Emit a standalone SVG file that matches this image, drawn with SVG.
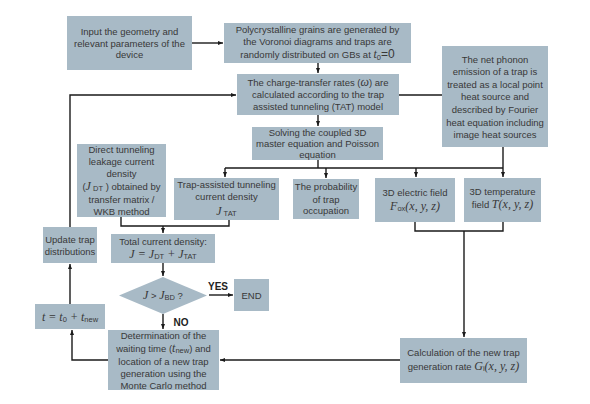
<svg xmlns="http://www.w3.org/2000/svg" width="590" height="404" viewBox="0 0 590 404">
<defs>
<style>
.b{fill:#a8bac6;stroke:none}
.t{font-family:"Liberation Sans",Arial,sans-serif;font-size:9.5px;fill:#383838;text-anchor:middle}
.m{font-family:"Liberation Serif","Times New Roman",serif;font-style:italic;font-size:12px}
.s{font-family:"Liberation Sans",Arial,sans-serif;font-style:normal;font-size:7.5px}
.c{fill:none;stroke:#1a1a1a;stroke-width:1.4}
.bold{font-family:"Liberation Sans",Arial,sans-serif;font-weight:bold;font-size:10px;fill:#222;text-anchor:middle}
</style>
<marker id="a" viewBox="0 0 10 10" refX="10" refY="5" markerWidth="5" markerHeight="5" orient="auto" markerUnits="userSpaceOnUse">
<path d="M0,1 L10,5 L0,9 z" fill="#1a1a1a"/>
</marker>
</defs>
<rect width="590" height="404" fill="#fff"/>

<g id="n-input"><rect class="b" x="67" y="16" width="125" height="54"/>
<text class="t" x="129.5" y="35">Input the geometry and</text>
<text class="t" x="129.5" y="47">relevant parameters of the</text>
<text class="t" x="129.5" y="58">device</text></g>

<g id="n-poly"><rect class="b" x="224" y="23" width="187" height="40"/>
<text class="t" x="317.5" y="33">Polycrystalline grains are generated by</text>
<text class="t" x="317.5" y="45">the Voronoi diagrams and traps are</text>
<text class="t" x="317.5" y="58">randomly distributed on GBs at <tspan class="m">t</tspan><tspan class="s" dy="2">0</tspan><tspan dy="-2" font-size="12">=0</tspan></text></g>

<g id="n-ct"><rect class="b" x="237" y="74" width="162" height="41"/>
<text class="t" x="318" y="86">The charge-transfer rates (<tspan class="m">ω</tspan>) are</text>
<text class="t" x="318" y="98">calculated according to the trap</text>
<text class="t" x="318" y="110">assisted tunneling (TAT) model</text></g>

<g id="n-phonon"><rect class="b" x="442" y="46" width="106" height="101"/>
<text class="t" x="495" y="63">The net phonon</text>
<text class="t" x="495" y="75">emission of a trap is</text>
<text class="t" x="495" y="88">treated as a local  point</text>
<text class="t" x="495" y="100">heat source and</text>
<text class="t" x="495" y="113">described by Fourier</text>
<text class="t" x="495" y="126">heat equation including</text>
<text class="t" x="495" y="138">image heat sources</text></g>

<g id="n-solve"><rect class="b" x="252" y="127" width="131" height="33"/>
<text class="t" x="317.5" y="136">Solving the coupled 3D</text>
<text class="t" x="317.5" y="147">master equation and Poisson</text>
<text class="t" x="317.5" y="158">equation</text></g>

<g id="n-dt"><rect class="b" x="77" y="144" width="89" height="73"/>
<text class="t" x="121.5" y="153">Direct tunneling</text>
<text class="t" x="121.5" y="165">leakage current</text>
<text class="t" x="121.5" y="177">density</text>
<text class="t" x="121.5" y="190">(<tspan class="m">J</tspan><tspan class="s" dy="1"> DT</tspan><tspan dy="-1"> ) obtained by</tspan></text>
<text class="t" x="121.5" y="203">transfer matrix /</text>
<text class="t" x="121.5" y="215">WKB method</text></g>

<g id="n-tat"><rect class="b" x="174" y="178" width="105" height="42"/>
<text class="t" x="226.5" y="188">Trap-assisted tunneling</text>
<text class="t" x="226.5" y="200">current density</text>
<text class="t" x="226.5" y="215"><tspan class="m">J</tspan><tspan class="s" dy="1"> TAT</tspan></text></g>

<g id="n-prob"><rect class="b" x="293" y="179" width="66" height="40"/>
<text class="t" x="326" y="190">The probability</text>
<text class="t" x="326" y="203">of trap</text>
<text class="t" x="326" y="214">occupation</text></g>

<g id="n-ef"><rect class="b" x="375" y="178" width="80" height="44"/>
<text class="t" x="415" y="196">3D electric field</text>
<text class="t" x="415" y="210"><tspan class="m">F</tspan><tspan class="s" dy="1">ox</tspan><tspan class="m" dy="-1" font-style="normal">(</tspan><tspan class="m">x</tspan><tspan class="m" font-style="normal">, </tspan><tspan class="m">y</tspan><tspan class="m" font-style="normal">, </tspan><tspan class="m">z</tspan><tspan class="m" font-style="normal">)</tspan></text></g>

<g id="n-temp"><rect class="b" x="464" y="178" width="77" height="44"/>
<text class="t" x="502.5" y="195">3D temperature</text>
<text class="t" x="502.5" y="208">field  <tspan class="m">T</tspan><tspan class="m" font-style="normal">(</tspan><tspan class="m">x</tspan><tspan class="m" font-style="normal">, </tspan><tspan class="m">y</tspan><tspan class="m" font-style="normal">, </tspan><tspan class="m">z</tspan><tspan class="m" font-style="normal">)</tspan></text></g>

<g id="n-update"><rect class="b" x="43" y="227" width="54" height="36"/>
<text class="t" x="70" y="243">Update trap</text>
<text class="t" x="70" y="255">distributions</text></g>

<g id="n-total"><rect class="b" x="111" y="234" width="104" height="29"/>
<text class="t" x="163" y="245">Total current density:</text>
<text class="t" x="163" y="258"><tspan class="m">J</tspan><tspan class="m" font-style="normal"> = </tspan><tspan class="m">J</tspan><tspan class="s" dy="1">DT</tspan><tspan class="m" font-style="normal" dy="-1">  + </tspan><tspan class="m">J</tspan><tspan class="s" dy="1">TAT</tspan></text></g>

<g id="n-dec"><polygon class="b" points="119,295.5 163,277 207,295.5 163,314"/>
<text class="t" x="163" y="299"><tspan class="m">J</tspan> &gt; <tspan class="m">J</tspan><tspan class="s" dy="1">BD</tspan><tspan dy="-1">  ?</tspan></text></g>

<g id="n-end"><rect class="b" x="234" y="279" width="35" height="32"/>
<text class="t" x="251.5" y="298.5">END</text></g>

<g id="n-t"><rect class="b" x="35" y="304" width="70" height="25"/>
<text class="t" x="70" y="320.5"><tspan class="m">t</tspan><tspan class="m" font-style="normal"> = </tspan><tspan class="m">t</tspan><tspan class="s" dy="1">0</tspan><tspan class="m" font-style="normal" dy="-1"> + </tspan><tspan class="m">t</tspan><tspan class="s" dy="1">new</tspan></text></g>

<g id="n-det"><rect class="b" x="108" y="330" width="111" height="60"/>
<text class="t" x="163.5" y="339">Determination of the</text>
<text class="t" x="163.5" y="352">waiting time (<tspan class="m">t</tspan><tspan class="s" dy="1">new</tspan><tspan dy="-1">) and</tspan></text>
<text class="t" x="163.5" y="365">location of a new trap</text>
<text class="t" x="163.5" y="377">generation using the</text>
<text class="t" x="163.5" y="389">Monte Carlo method</text></g>

<g id="n-calc"><rect class="b" x="400" y="338" width="127" height="45"/>
<text class="t" x="463.5" y="356">Calculation of the new trap</text>
<text class="t" x="463.5" y="370">generation rate <tspan class="m">G</tspan><tspan class="s" dy="1">i</tspan><tspan class="m" font-style="normal" dy="-1">(</tspan><tspan class="m">x</tspan><tspan class="m" font-style="normal">, </tspan><tspan class="m">y</tspan><tspan class="m" font-style="normal">, </tspan><tspan class="m">z</tspan><tspan class="m" font-style="normal">)</tspan></text></g>

<g id="connectors">
<path class="c" d="M192,43 H223" marker-end="url(#a)"/>
<path class="c" d="M318,63 V73" marker-end="url(#a)"/>
<path class="c" d="M318,115 V126" marker-end="url(#a)"/>
<path class="c" d="M399,95 H442"/>
<path class="c" d="M318,160 V168"/>
<path class="c" d="M225,168 H503"/>
<path class="c" d="M225,168 V177" marker-end="url(#a)"/>
<path class="c" d="M326,168 V178" marker-end="url(#a)"/>
<path class="c" d="M416,168 V177" marker-end="url(#a)"/>
<path class="c" d="M503,147 V177" marker-end="url(#a)"/>
<path class="c" d="M121,217 V226 H229 V220"/>
<path class="c" d="M163,226 V233" marker-end="url(#a)"/>
<path class="c" d="M163,263 V276" marker-end="url(#a)"/>
<path class="c" d="M209,295 H233" marker-end="url(#a)"/>
<path class="c" d="M163,314 V329" marker-end="url(#a)"/>
<path class="c" d="M415,222 V231 H503 V222"/>
<path class="c" d="M464,231 V337" marker-end="url(#a)"/>
<path class="c" d="M400,360 H220" marker-end="url(#a)"/>
<path class="c" d="M108,360 H72 V330" marker-end="url(#a)"/>
<path class="c" d="M70,304 V264" marker-end="url(#a)"/>
<path class="c" d="M70,227 V95 H236" marker-end="url(#a)"/>
<text class="bold" x="218" y="290">YES</text>
<text class="bold" x="181" y="326">NO</text>
</g>
</svg>
